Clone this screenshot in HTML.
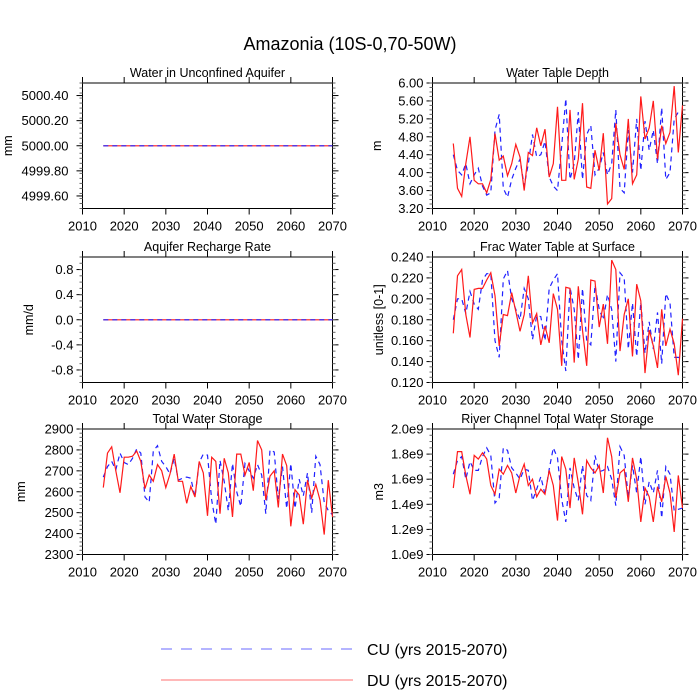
<!DOCTYPE html>
<html><head><meta charset="utf-8"><style>
body{margin:0;background:#fff;}
svg{display:block;font-family:"Liberation Sans",sans-serif;}
</style></head><body>
<svg id="c" width="700" height="700" viewBox="0 0 700 700">
<text x="350" y="50" font-size="18" text-anchor="middle">Amazonia (10S-0,70-50W)</text>
<line x1="161" y1="649" x2="353" y2="649" stroke="#6a6aff" stroke-width="1" stroke-dasharray="11,9"/>
<text x="367" y="655" font-size="16">CU (yrs 2015-2070)</text>
<line x1="161" y1="680" x2="353" y2="680" stroke="#ff7070" stroke-width="1"/>
<text x="367" y="686" font-size="16">DU (yrs 2015-2070)</text>
</svg>
<script>
const years=[];for(let y=2015;y<=2070;y++)years.push(y);
const xTicks=[2010,2020,2030,2040,2050,2060,2070];
const aqRed=years.map(()=>5000), aqBlue=years.map(()=>5000);
const rechRed=years.map(()=>0), rechBlue=years.map(()=>0);
const wtdRed=[4.65,3.65,3.47,4.2,4.8,3.83,3.75,3.75,3.55,3.85,4.87,4.28,4.37,3.93,4.2,4.63,4.35,3.6,4.45,4.38,5.0,4.6,4.97,3.9,4.2,5.47,3.83,3.83,5.4,3.85,4.3,5.55,3.68,3.65,4.5,4.05,4.88,3.3,3.42,5.1,4.4,4.07,5.2,3.75,3.95,5.7,4.75,5.0,5.6,4.3,5.05,4.65,4.9,5.93,4.45,5.5];
const wtdBlue=[4.4,4.05,3.95,4.2,3.75,3.95,4.1,3.7,3.5,3.55,4.95,5.3,3.65,3.45,3.85,4.1,4.3,3.7,4.2,4.85,4.35,4.4,4.7,3.9,3.7,3.6,4.6,5.65,3.85,4.2,5.35,3.85,4.85,5.05,3.95,4.1,4.45,3.95,4.2,5.4,3.65,3.55,4.95,4.0,5.2,4.05,5.15,4.5,4.95,4.2,5.45,3.85,4.0,5.2,5.35,5.35];
const fracRed=[0.167,0.222,0.228,0.185,0.163,0.209,0.21,0.21,0.218,0.225,0.203,0.155,0.185,0.184,0.206,0.188,0.169,0.185,0.222,0.177,0.186,0.156,0.174,0.158,0.205,0.19,0.136,0.211,0.21,0.139,0.212,0.17,0.136,0.218,0.217,0.173,0.195,0.157,0.237,0.228,0.15,0.185,0.2,0.145,0.214,0.198,0.129,0.17,0.155,0.134,0.19,0.155,0.171,0.157,0.127,0.181];
const fracBlue=[0.18,0.2,0.2,0.186,0.207,0.195,0.19,0.218,0.224,0.224,0.16,0.144,0.219,0.227,0.2,0.19,0.18,0.21,0.2,0.161,0.184,0.183,0.16,0.21,0.218,0.224,0.16,0.131,0.211,0.19,0.142,0.21,0.16,0.156,0.213,0.19,0.18,0.204,0.19,0.14,0.225,0.22,0.152,0.196,0.145,0.197,0.148,0.178,0.152,0.187,0.138,0.205,0.196,0.144,0.144,0.143];
const twsRed=[2620,2785,2815,2700,2595,2765,2765,2770,2795,2745,2615,2680,2650,2730,2700,2620,2685,2780,2650,2650,2545,2625,2575,2745,2690,2485,2765,2745,2495,2760,2690,2480,2780,2780,2680,2740,2605,2845,2800,2560,2675,2700,2525,2780,2725,2435,2610,2585,2445,2655,2570,2635,2560,2395,2655,2480];
const twsBlue=[2670,2720,2745,2705,2785,2740,2730,2760,2805,2785,2575,2550,2795,2820,2745,2720,2685,2760,2655,2665,2670,2665,2575,2740,2780,2775,2560,2445,2750,2650,2510,2735,2600,2530,2735,2700,2665,2730,2680,2495,2800,2790,2565,2720,2520,2735,2520,2660,2580,2690,2500,2770,2730,2550,2510,2490];
const rivRed=[1.53,1.82,1.82,1.63,1.48,1.79,1.76,1.81,1.76,1.55,1.48,1.68,1.64,1.71,1.65,1.49,1.63,1.72,1.55,1.6,1.46,1.52,1.48,1.67,1.55,1.27,1.78,1.68,1.37,1.77,1.57,1.32,1.75,1.69,1.65,1.71,1.49,1.93,1.78,1.45,1.65,1.68,1.42,1.77,1.6,1.26,1.53,1.46,1.26,1.54,1.42,1.62,1.49,1.18,1.63,1.37];
const rivBlue=[1.64,1.75,1.78,1.6,1.74,1.67,1.67,1.78,1.85,1.79,1.41,1.45,1.85,1.83,1.69,1.65,1.6,1.68,1.67,1.43,1.52,1.62,1.48,1.68,1.85,1.77,1.44,1.26,1.69,1.53,1.43,1.71,1.47,1.43,1.79,1.66,1.67,1.7,1.6,1.39,1.86,1.79,1.45,1.71,1.49,1.78,1.4,1.58,1.49,1.67,1.29,1.7,1.64,1.35,1.36,1.37];

const svg=document.getElementById('c');
const NS='http://www.w3.org/2000/svg';
function mk(tag,at,parent){const e=document.createElementNS(NS,tag);for(const k in at)e.setAttribute(k,at[k]);(parent||svg).appendChild(e);return e;}

function panel(o){
  const g=mk('g',{});
  
  
  const L=o.x,R=o.x+250,T=o.y,B=o.y+125.5;
  const sx=v=>L+(v-2010)/60*(R-L);
  const sy=v=>B-(v-o.ymin)/(o.ymax-o.ymin)*(B-T);
  const t=mk('text',{x:(L+R)/2,y:T-6,'font-size':12.5,'text-anchor':'middle'},g);t.textContent=o.title;
  
  
  mk('rect',{x:L,y:T,width:R-L,height:B-T,fill:'none',stroke:'#000','stroke-width':1},g);
  xTicks.forEach(v=>{const X=sx(v);
    mk('line',{x1:X,x2:X,y1:B,y2:B+6,stroke:'#000'},g);
    mk('line',{x1:X,x2:X,y1:T,y2:T-6,stroke:'#000'},g);
    const lb=mk('text',{x:X,y:B+22,'font-size':13,'text-anchor':'middle'},g);lb.textContent=v;
    
    
  });
  o.yticks.forEach((v,i)=>{const Y=sy(v);
    mk('line',{x1:L,x2:L-6,y1:Y,y2:Y,stroke:'#000'},g);
    mk('line',{x1:R,x2:R+6,y1:Y,y2:Y,stroke:'#000'},g);
    const lb=mk('text',{x:L-o.gap,y:Y+4.5,'font-size':13,'text-anchor':'end'},g);lb.textContent=o.ylabels[i];
    
    
  });
  const step=(o.yticks[1]-o.yticks[0])/o.minor;
  for(let v=o.ymin;v<=o.ymax+1e-9;v+=step){const Y=sy(v);if(Y<T-0.1||Y>B+0.1)continue;
    mk('line',{x1:L,x2:L-3,y1:Y,y2:Y,stroke:'#666'},g);
    mk('line',{x1:R,x2:R+3,y1:Y,y2:Y,stroke:'#666'},g);}
  const yt=mk('text',{x:o.ylx,y:(T+B)/2,'font-size':12.5,'text-anchor':'middle',transform:`rotate(-90 ${o.ylx} ${(T+B)/2})`},g);yt.textContent=o.ytitle;
  
  
  const pts=a=>a.map((v,i)=>sx(years[i]).toFixed(1)+','+sy(v).toFixed(1)).join(' ');
  const pb=mk('polyline',{points:pts(o.blue),fill:'none',stroke:'#2020ff','stroke-width':1.2,'stroke-dasharray':'5,4'},g);
  
  
  const pr=mk('polyline',{points:pts(o.red),fill:'none',stroke:'#ff1a1a','stroke-width':1.2},g);
  
  
  if(o.flat){pb.parentNode.appendChild(pb);}
}
panel({name:'panel-water-unconfined-aquifer',x:82.5,y:83,gap:14,title:'Water in Unconfined Aquifer',ymin:4999.5,ymax:5000.5,yticks:[4999.6,4999.8,5000,5000.2,5000.4],ylabels:['4999.60','4999.80','5000.00','5000.20','5000.40'],minor:5,ytitle:'mm',ylx:12,red:aqRed,blue:aqBlue,flat:true});
panel({name:'panel-water-table-depth',x:432.5,y:83,gap:9,title:'Water Table Depth',ymin:3.2,ymax:6.0,yticks:[3.2,3.6,4.0,4.4,4.8,5.2,5.6,6.0],ylabels:['3.20','3.60','4.00','4.40','4.80','5.20','5.60','6.00'],minor:4,ytitle:'m',ylx:381,red:wtdRed,blue:wtdBlue});
panel({name:'panel-aquifer-recharge',x:82.5,y:257,gap:9,title:'Aquifer Recharge Rate',ymin:-1,ymax:1,yticks:[-0.8,-0.4,0,0.4,0.8],ylabels:['-0.8','-0.4','0.0','0.4','0.8'],minor:4,ytitle:'mm/d',ylx:33,red:rechRed,blue:rechBlue,flat:true});
panel({name:'panel-frac-water-table',x:432.5,y:257,gap:9,title:'Frac Water Table at Surface',ymin:0.12,ymax:0.24,yticks:[0.12,0.14,0.16,0.18,0.2,0.22,0.24],ylabels:['0.120','0.140','0.160','0.180','0.200','0.220','0.240'],minor:4,ytitle:'unitless [0-1]',ylx:383,red:fracRed,blue:fracBlue});
panel({name:'panel-total-water-storage',x:82.5,y:429,gap:9,title:'Total Water Storage',ymin:2300,ymax:2900,yticks:[2300,2400,2500,2600,2700,2800,2900],ylabels:['2300','2400','2500','2600','2700','2800','2900'],minor:5,ytitle:'mm',ylx:25,red:twsRed,blue:twsBlue});
panel({name:'panel-river-channel-storage',x:432.5,y:429,gap:9,title:'River Channel Total Water Storage',ymin:1.0,ymax:2.0,yticks:[1.0,1.2,1.4,1.6,1.8,2.0],ylabels:['1.0e9','1.2e9','1.4e9','1.6e9','1.8e9','2.0e9'],minor:4,ytitle:'m3',ylx:383,red:rivRed,blue:rivBlue});
</script>
</body></html>
